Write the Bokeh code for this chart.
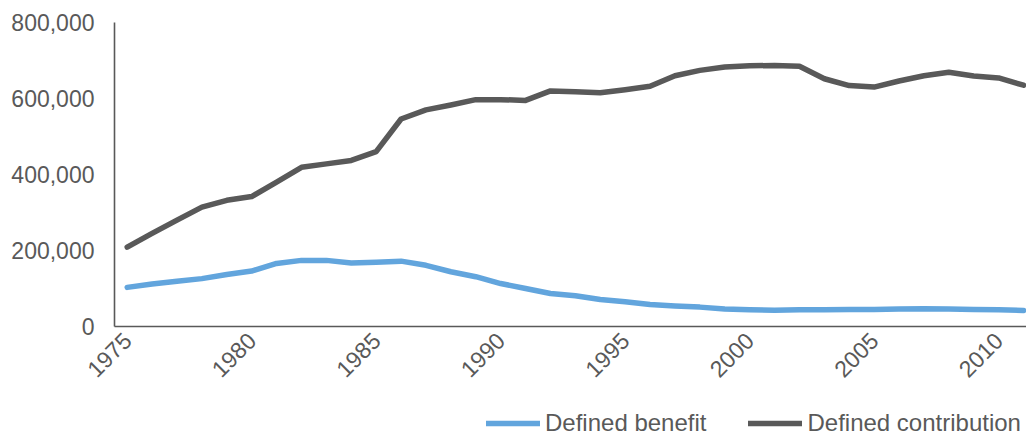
from math import pi
from bokeh.plotting import figure
from bokeh.models import FixedTicker, NumeralTickFormatter, Range1d, Legend, LegendItem
from bokeh.embed import file_html
from bokeh.resources import INLINE

years = [1975, 1976, 1977, 1978, 1979, 1980, 1981, 1982, 1983, 1984, 1985, 1986,
         1987, 1988, 1989, 1990, 1991, 1992, 1993, 1994, 1995, 1996, 1997, 1998,
         1999, 2000, 2001, 2002, 2003, 2004, 2005, 2006, 2007, 2008, 2009, 2010, 2011]

defined_benefit = [103000, 112000, 119000, 126000, 137000, 146000, 166000, 174000,
                   174000, 167000, 169000, 172000, 161000, 144000, 131000, 113000,
                   100000, 87000, 81000, 71000, 65000, 58000, 54000, 51000, 46000,
                   44000, 43000, 44000, 44000, 45000, 45000, 46000, 47000, 46000,
                   45000, 44000, 42000]

defined_contribution = [209000, 245000, 280000, 314000, 332000, 342000, 380000, 419000,
                        428000, 437000, 460000, 546000, 570000, 583000, 597000, 597000,
                        595000, 620000, 618000, 615000, 623000, 632000, 660000, 674000,
                        683000, 686000, 687000, 685000, 652000, 634000, 630000, 646000,
                        660000, 669000, 659000, 654000, 635000]

x_ticks = [1975, 1980, 1985, 1990, 1995, 2000, 2005, 2010]
y_ticks = [0, 200000, 400000, 600000, 800000]
series_names = ["Defined benefit", "Defined contribution"]

FONT = "Liberation Sans"
GRAY = "#595959"
BLUE = "#62A5DD"

W, H = 1026, 438
# plot-area geometry in pixels (frame covers the whole canvas, axes are pinned)
AX_LEFT, AX_TOP, AX_BOTTOM = 114, 22, 326
X0, X1 = 1974.49, 2011.12          # data range spanned between AX_LEFT and the right edge
Y0, Y1 = 0, 800000                 # data range spanned between AX_BOTTOM and AX_TOP
px_x = (W - AX_LEFT) / (X1 - X0)
px_y = (AX_BOTTOM - AX_TOP) / (Y1 - Y0)
xr = Range1d(X0 - AX_LEFT / px_x, X1)
yr = Range1d(Y0 - (H - AX_BOTTOM) / px_y, Y1 + AX_TOP / px_y)

p = figure(width=W, height=H, output_backend="svg", toolbar_location=None,
           x_range=xr, y_range=yr, min_border=0,
           min_border_left=0, min_border_right=0, min_border_top=0,
           min_border_bottom=0, background_fill_color="white",
           border_fill_color="white", outline_line_color=None)

p.xgrid.visible = False
p.ygrid.visible = False

r_db = p.line(years, defined_benefit, line_color=BLUE, line_width=5.5,
              line_cap="round", line_join="round")
r_dc = p.line(years, defined_contribution, line_color=GRAY, line_width=5.5,
              line_cap="round", line_join="round")

for ax in (p.xaxis[0], p.yaxis[0]):
    ax.axis_line_color = GRAY
    ax.axis_line_width = 1.6
    ax.major_tick_line_color = None
    ax.minor_tick_line_color = None
    ax.major_tick_out = 0
    ax.major_tick_in = 0
    ax.major_label_text_font = FONT
    ax.major_label_text_font_size = "23px"
    ax.major_label_text_color = GRAY

p.yaxis[0].ticker = FixedTicker(ticks=y_ticks)
p.yaxis[0].formatter = NumeralTickFormatter(format="0,0")
p.yaxis[0].major_label_standoff = 20
p.yaxis[0].bounds = (Y0, Y1)
p.yaxis[0].fixed_location = X0

p.xaxis[0].ticker = FixedTicker(ticks=x_ticks)
p.xaxis[0].major_label_orientation = pi / 4
p.xaxis[0].major_label_standoff = 10
p.xaxis[0].bounds = (X0, X1)
p.xaxis[0].fixed_location = Y0

legend = Legend(items=[LegendItem(label=series_names[0], renderers=[r_db]),
                       LegendItem(label=series_names[1], renderers=[r_dc])],
                orientation="horizontal", location=(486, 1),
                padding=0, margin=0, spacing=42, glyph_width=54, glyph_height=22,
                label_height=22, label_standoff=5, border_line_color=None,
                background_fill_alpha=0, label_text_font=FONT,
                label_text_font_size="24px", label_text_color=GRAY)
p.add_layout(legend, "center")

open("out.html", "w").write(file_html(p, INLINE))
